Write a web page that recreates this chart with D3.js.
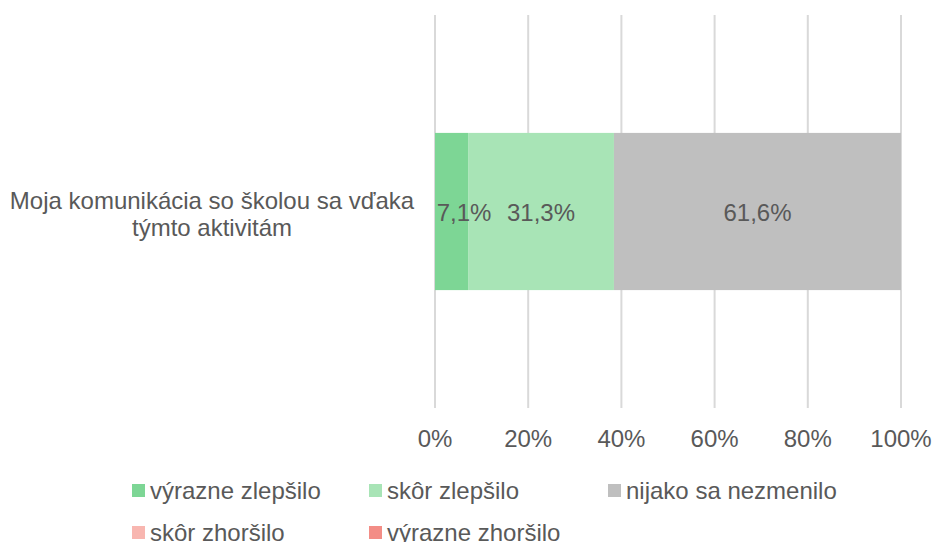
<!DOCTYPE html>
<meta charset="utf-8">
<title>Stacked bar</title>
<style>
  body { margin: 0; background: #fff; }
  text { font-family: "Liberation Sans", Arial, sans-serif; fill: #595959; }
  .grid line { stroke: #d9d9d9; stroke-width: 2px; }
</style>
<body>
<script src="https://d3js.org/d3.v7.min.js"></script>
<script>
  var categories = ["Moja komunikácia so školou sa vďaka|týmto aktivitám"];
  var seriesNames = ["výrazne zlepšilo", "skôr zlepšilo", "nijako sa nezmenilo", "skôr zhoršilo", "výrazne zhoršilo"];
  var seriesColors = ["#7dd695", "#a8e4b6", "#bfbfbf", "#f8b6b0", "#f38d86"];
  var seriesValues = [7.1, 31.3, 61.6, 0, 0];
  var tickValues = [0, 20, 40, 60, 80, 100];

  var width = 933, height = 542;
  var svg = d3.select("body").append("svg")
    .attr("width", width)
    .attr("height", height);

  var x = d3.scaleLinear().domain([0, 100]).range([435, 901]);
  var y = d3.scaleBand().domain(categories).range([15, 408]).paddingInner(0.6).paddingOuter(0.3);

  // gridlines
  svg.append("g").attr("class", "grid")
    .selectAll("line").data(tickValues).enter().append("line")
    .attr("x1", d => x(d)).attr("x2", d => x(d))
    .attr("y1", 15).attr("y2", 408);

  // tick labels
  svg.append("g").selectAll("text").data(tickValues).enter().append("text")
    .attr("x", d => x(d)).attr("y", 447)
    .attr("text-anchor", "middle")
    .style("font-size", "24px")
    .text(d => d + "%");

  // stacked segments
  var segs = [];
  var acc = 0;
  seriesValues.forEach(function(v, i) {
    segs.push({ name: seriesNames[i], color: seriesColors[i], start: acc, value: v });
    acc += v;
  });

  var cat = categories[0];
  var bars = svg.append("g");
  bars.selectAll("rect").data(segs.filter(d => d.value > 0)).enter().append("rect")
    .attr("x", d => x(d.start))
    .attr("y", y(cat))
    .attr("width", d => x(d.start + d.value) - x(d.start))
    .attr("height", y.bandwidth())
    .attr("fill", d => d.color);

  bars.selectAll("text").data(segs.filter(d => d.value > 0)).enter().append("text")
    .attr("x", function(d) {
      var c = (x(d.start) + x(d.start + d.value)) / 2;
      return Math.max(c, x(d.start) + 29);
    })
    .attr("y", y(cat) + y.bandwidth() / 2 + 9)
    .attr("text-anchor", "middle")
    .style("font-size", "24px")
    .text(d => d.value.toFixed(1).replace(".", ",") + "%");

  // category label
  var lines = cat.split("|");
  svg.append("text")
    .attr("x", 212)
    .attr("y", 209)
    .attr("text-anchor", "middle")
    .style("font-size", "24px")
    .selectAll("tspan").data(lines).enter().append("tspan")
    .attr("x", 212)
    .attr("dy", (d, i) => i === 0 ? 0 : 27)
    .text(d => d);

  // legend
  var legendX = [132, 369, 608, 132, 369];
  var legendY = [490, 490, 490, 532, 532];
  var leg = svg.append("g").selectAll("g").data(seriesNames).enter().append("g")
    .attr("transform", (d, i) => "translate(" + legendX[i] + "," + legendY[i] + ")");
  leg.append("rect")
    .attr("x", 0).attr("y", -6).attr("width", 13).attr("height", 13)
    .attr("fill", (d, i) => seriesColors[i]);
  leg.append("text")
    .attr("x", 18).attr("y", 9)
    .style("font-size", "24px")
    .text(d => d);
</script>
</body>
